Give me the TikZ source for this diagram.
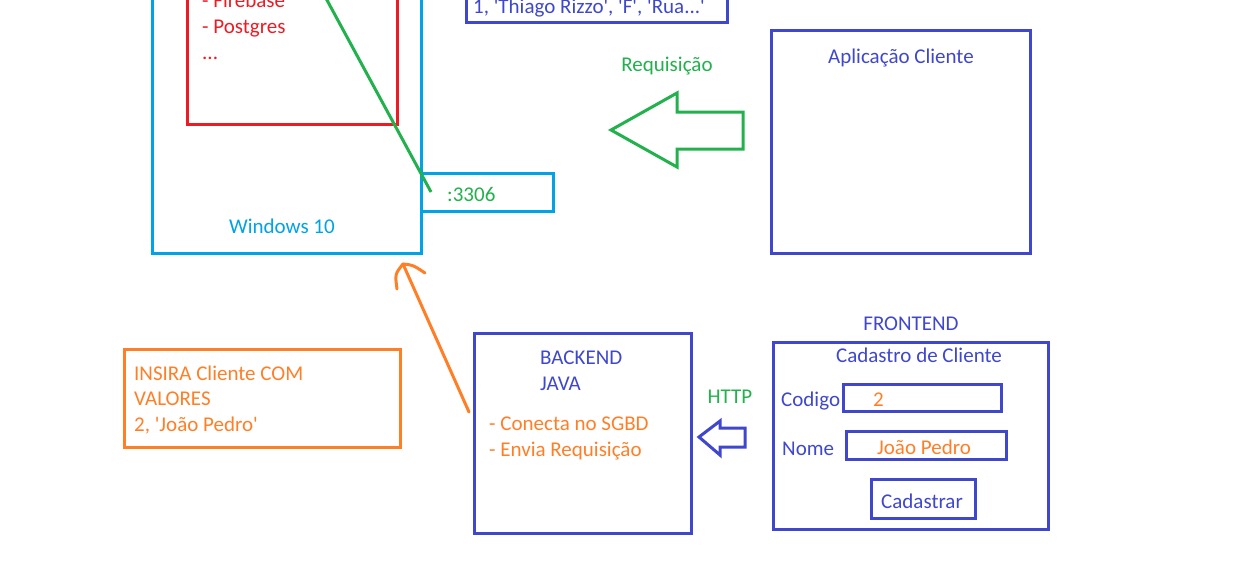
\documentclass[tikz,border=0pt]{standalone}
\usepackage{fontspec}
\setmainfont{Carlito}[Ligatures=TeXOff]
\definecolor{cy}{HTML}{00A2E8}
\definecolor{rd}{HTML}{ED1C24}
\definecolor{gr}{HTML}{22B14C}
\definecolor{bl}{HTML}{3F48CC}
\definecolor{og}{HTML}{FF7F27}
\begin{document}
\begin{tikzpicture}[x=1pt,y=-1pt,
  every node/.style={font=\fontsize{21}{25}\selectfont, inner sep=0pt},
  box/.style={draw, line width=3pt, minimum width=#1},
  lbl/.style={anchor=base},
  lblw/.style={anchor=base west},
  stroke/.style={line width=3pt, line join=miter}]
\useasboundingbox (0,0) rectangle (1240,570);
\clip (0,0) rectangle (1240,570);
\fill[white] (0,0) rectangle (1240,570);
% boxes
\node[box=269pt, draw=cy, minimum height=353pt] (win) at (286.5,76.5) {};
\node[box=132pt, draw=cy, minimum height=38pt] (port) at (487,192) {};
\node[box=210pt, draw=rd, minimum height=224pt] (db) at (292,12) {};
\node[box=261pt, draw=bl, minimum height=62pt] (query) at (596.5,-9) {};
\node[box=259pt, draw=bl, minimum height=223pt] (app) at (900.5,141.5) {};
\node[box=276pt, draw=og, minimum height=98pt] (insert) at (262,398) {};
\node[box=217pt, draw=bl, minimum height=200pt] (back) at (582.5,433) {};
\node[box=275pt, draw=bl, minimum height=187pt] (front) at (910.5,435.5) {};
\node[box=158pt, draw=bl, minimum height=27pt] (codf) at (922,397.5) {};
\node[box=160pt, draw=bl, minimum height=28pt] (nomef) at (926,445) {};
\node[box=104pt, draw=bl, minimum height=39pt] (btn) at (923,498.5) {};
% texts
\node[lbl, text=cy] (winl) at (282,233) {Windows 10};
\node[lblw, text=gr] (portl) at (447,201) {:3306};
\node[lblw, text=rd] (db1) at (202,8) {- Firebase};
\node[lblw, text=rd] (db2) at (202,33) {- Postgres};
\node[lblw, text=rd] (db3) at (202,59) {...};
\node[lblw, text=bl] (ql) at (473,13) {1, 'Thiago Rizzo', 'F', 'Rua...'};
\node[lbl, text=gr] (reql) at (667,71) {Requisição};
\node[lbl, text=bl] (appl) at (901,63) {Aplicação Cliente};
\node[lblw, text=og] (ins1) at (134,380) {INSIRA Cliente COM};
\node[lblw, text=og] (ins2) at (134,405) {VALORES};
\node[lblw, text=og] (ins3) at (134,431) {2, 'João Pedro'};
\node[lblw, text=bl] (back1) at (540,364) {BACKEND};
\node[lblw, text=bl] (back2) at (540,390) {JAVA};
\node[lblw, text=og] (back3) at (489,430) {- Conecta no SGBD};
\node[lblw, text=og] (back4) at (489,456) {- Envia Requisição};
\node[lbl, text=gr] (httpl) at (730,403) {HTTP};
\node[lbl, text=bl] (frontl) at (911,330) {FRONTEND};
\node[lbl, text=bl] (cadl) at (919,362) {Cadastro de Cliente};
\node[lblw, text=bl] (codl) at (781,406) {Codigo};
\node[lblw, text=og] (codv) at (873,406) {2};
\node[lblw, text=bl] (noml) at (782,455) {Nome};
\node[lbl, text=og] (nomv) at (924,454) {João Pedro};
\node[lbl, text=bl] (btnl) at (922,508) {Cadastrar};
% green connector line
\coordinate (gA) at (321.5,-10);
\coordinate (gB) at (431,192);
\draw[gr, line width=3pt] (gA) -- (gB);
% green outline arrow
\draw[gr, stroke] (611,130) -- (677,93) -- (677,112) -- (743,112) -- (743,149) -- (677,149) -- (677,167) -- cycle;
% blue outline arrow
\draw[bl, stroke] (699,437) -- (720,421) -- (720,428) -- (745,428) -- (745,447) -- (720,447) -- (720,455) -- cycle;
% orange arrow
\coordinate (oA) at (469,412);
\coordinate (oT) at (403,264);
\draw[og, line width=3pt, line cap=round] (oA) -- (oT);
\draw[og, line width=3pt, line cap=round] (oT) .. controls (395,274) .. (397,289);
\draw[og, line width=3pt, line cap=round] (oT) .. controls (413,265) .. (425,273);
\end{tikzpicture}
\end{document}
